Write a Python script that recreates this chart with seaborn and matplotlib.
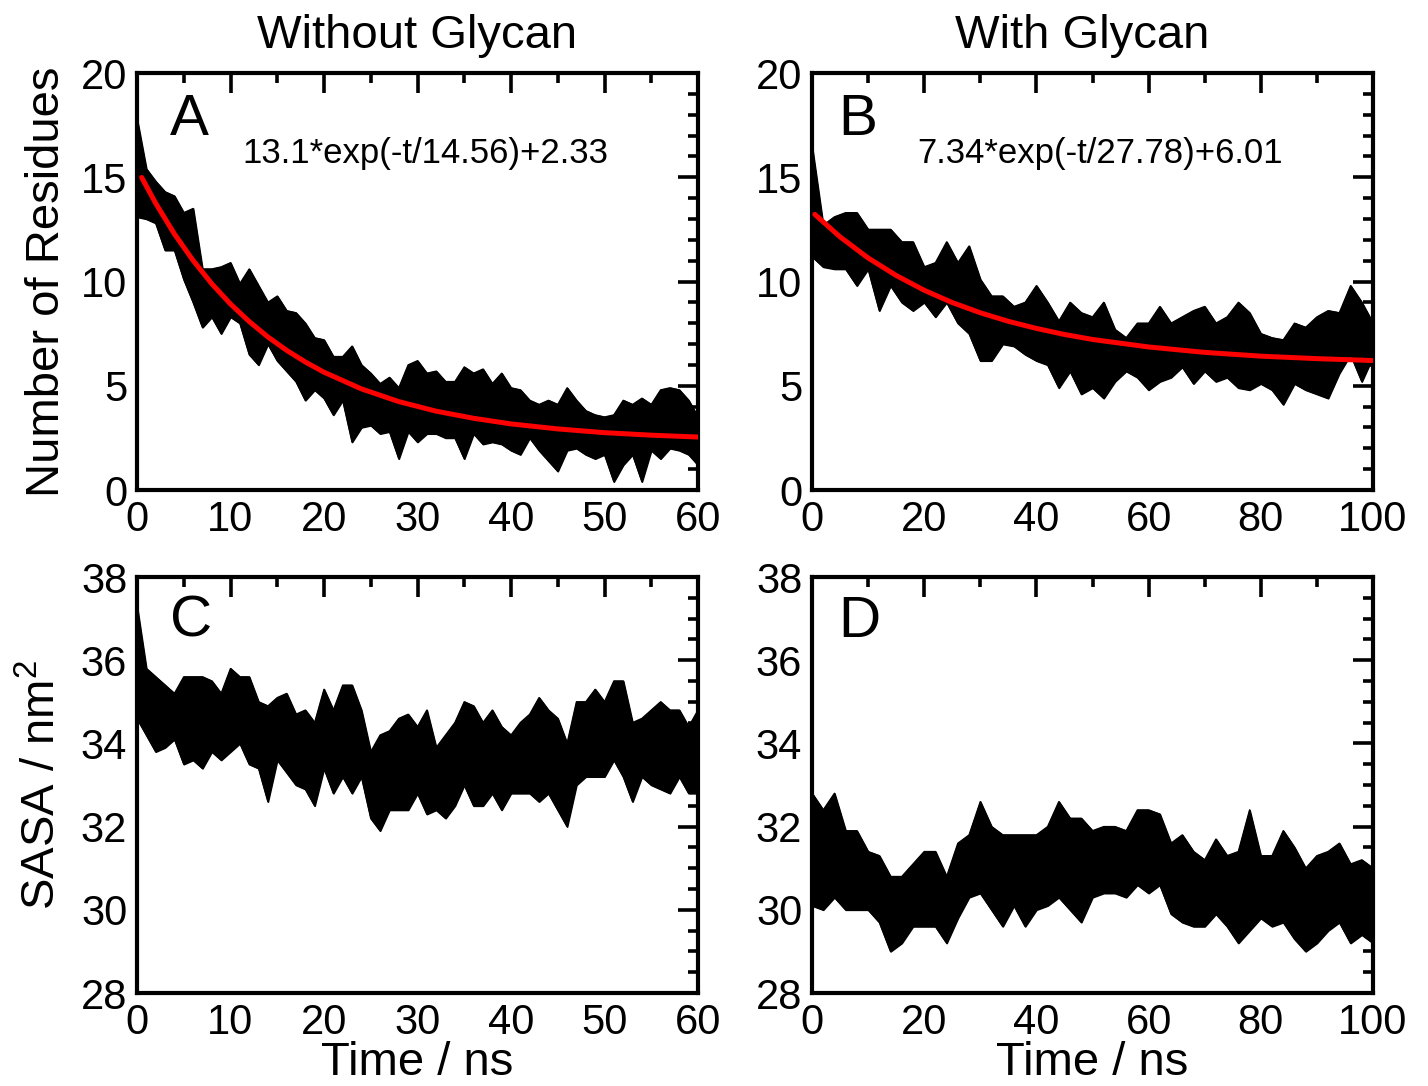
import matplotlib
matplotlib.use("Agg")
import matplotlib.pyplot as plt
from matplotlib.ticker import MultipleLocator
import seaborn as sns
import pandas as pd

# ---------------- data ----------------
# Panel A: number of residues, without glycan (envelope of noisy trace, 1 ns steps)
tA = list(range(0, 61))
A_top = [17.8, 15.4, 14.8, 14.3, 14.1, 13.3, 13.5, 10.6, 10.6, 10.7,
         10.9, 9.9, 10.6, 9.8, 9.0, 9.3, 8.6, 8.5, 8.0, 7.3,
         7.2, 6.4, 6.4, 6.9, 6.0, 5.6, 5.1, 5.4, 4.9, 6.0,
         6.2, 5.6, 5.7, 5.2, 5.2, 5.9, 5.6, 5.8, 5.1, 5.6,
         4.9, 4.8, 4.3, 4.1, 4.3, 4.1, 4.9, 4.3, 3.8, 3.6,
         3.5, 3.6, 4.3, 4.1, 4.4, 4.1, 4.8, 4.9, 4.8, 4.3, 3.5]
A_bot = [13.1, 13.0, 12.8, 11.5, 11.5, 10.1, 9.0, 7.8, 8.3, 7.5,
         8.3, 8.0, 6.5, 6.0, 7.0, 6.2, 5.7, 5.2, 4.3, 4.8,
         4.4, 3.6, 4.3, 2.3, 3.0, 3.1, 2.7, 2.8, 1.5, 2.8,
         2.3, 2.7, 2.7, 2.5, 2.5, 1.5, 2.7, 2.2, 2.3, 2.2,
         1.9, 1.7, 2.5, 1.9, 1.4, 0.9, 1.9, 2.0, 1.7, 1.5,
         1.7, 0.4, 1.2, 1.7, 0.4, 1.9, 1.5, 2.0, 1.9, 1.7, 1.2]
# fitted curve A as drawn (red)
fitA_t = [0.5, 2, 4, 6, 8, 10, 12, 14, 16, 18, 20, 24, 28, 32, 36, 40, 45, 50, 55, 60]
fitA_y = [14.99, 13.75, 12.28, 11.01, 9.89, 8.92, 8.08, 7.34, 6.70, 6.14, 5.65,
          4.85, 4.24, 3.78, 3.44, 3.17, 2.93, 2.75, 2.63, 2.54]

# Panel B: number of residues, with glycan (2 ns steps)
tB = list(range(0, 101, 2))
B_top = [16.5, 12.7, 13.1, 13.3, 13.3, 12.5, 12.5, 12.5, 11.9, 11.9,
         10.7, 10.9, 11.9, 10.9, 11.7, 10.1, 9.3, 9.3, 8.8, 9.0,
         9.8, 9.0, 8.1, 9.0, 8.5, 8.3, 9.0, 7.7, 7.3, 8.0,
         8.0, 8.8, 8.0, 8.3, 8.6, 8.8, 8.0, 8.3, 9.0, 8.5,
         7.5, 7.3, 7.2, 8.0, 7.8, 8.3, 8.6, 8.5, 9.8, 9.0, 8.0]
B_bot = [11.2, 10.7, 10.6, 10.6, 9.8, 10.6, 8.6, 9.8, 9.0, 8.6,
         9.0, 8.3, 9.0, 8.0, 7.5, 6.2, 6.2, 7.0, 6.9, 6.5,
         6.2, 6.0, 4.9, 5.7, 4.6, 4.9, 4.4, 5.2, 5.7, 5.4,
         4.8, 5.2, 5.4, 5.9, 5.1, 5.7, 5.2, 5.4, 4.9, 4.8,
         5.1, 4.8, 4.1, 5.1, 4.8, 4.6, 4.4, 5.6, 6.5, 5.2, 6.4]
fitB_t = [0.5, 5, 10, 15, 20, 25, 30, 35, 40, 45, 50, 60, 70, 80, 90, 100]
fitB_y = [13.22, 12.14, 11.13, 10.29, 9.58, 8.99, 8.50, 8.09, 7.75, 7.46, 7.22,
          6.86, 6.60, 6.42, 6.30, 6.21]

# Panel C: SASA without glycan (1 ns steps)
tC = list(range(0, 61))
C_top = [37.3, 35.8, 35.6, 35.4, 35.2, 35.6, 35.6, 35.6, 35.5, 35.2,
         35.8, 35.6, 35.6, 35.0, 34.9, 35.1, 35.2, 34.7, 34.8, 34.5,
         35.3, 34.8, 35.4, 35.4, 34.8, 33.8, 34.2, 34.3, 34.6, 34.7,
         34.4, 34.8, 33.9, 34.2, 34.5, 35.0, 34.9, 34.5, 34.8, 34.4,
         34.2, 34.5, 34.7, 35.1, 34.8, 34.6, 34.0, 35.0, 35.0, 35.3,
         35.0, 35.5, 35.5, 34.5, 34.6, 34.8, 35.0, 34.8, 34.8, 34.4, 34.8]
C_bot = [34.6, 34.2, 33.8, 33.9, 34.1, 33.5, 33.6, 33.4, 33.8, 33.6,
         33.8, 34.0, 33.5, 33.4, 32.6, 33.6, 33.3, 33.0, 32.9, 32.5,
         33.4, 32.8, 33.2, 32.8, 33.2, 32.2, 31.9, 32.4, 32.4, 32.4,
         32.8, 32.3, 32.4, 32.2, 32.5, 33.0, 32.5, 32.5, 32.8, 32.4,
         32.8, 32.8, 32.8, 32.6, 32.8, 32.4, 32.0, 33.0, 33.2, 33.2,
         33.2, 33.6, 33.2, 32.6, 33.2, 33.0, 32.9, 32.8, 33.2, 32.8, 32.8]

# Panel D: SASA with glycan (2 ns steps)
tD = list(range(0, 101, 2))
D_top = [32.8, 32.4, 32.8, 31.9, 31.9, 31.4, 31.3, 30.8, 30.8, 31.1,
         31.4, 31.4, 30.8, 31.6, 31.8, 32.6, 32.0, 31.8, 31.8, 31.8,
         31.8, 32.0, 32.6, 32.2, 32.2, 31.9, 32.0, 32.0, 31.9, 32.4,
         32.4, 32.3, 31.6, 31.8, 31.4, 31.2, 31.7, 31.3, 31.4, 32.4,
         31.3, 31.3, 31.9, 31.5, 31.0, 31.3, 31.4, 31.6, 31.1, 31.2, 31.0]
D_bot = [30.1, 30.0, 30.3, 30.0, 30.0, 30.0, 29.7, 29.0, 29.2, 29.6,
         29.6, 29.6, 29.2, 29.8, 30.3, 30.4, 30.0, 29.6, 30.1, 29.6,
         30.0, 30.1, 30.3, 30.0, 29.7, 30.3, 30.4, 30.4, 30.3, 30.6,
         30.4, 30.6, 29.9, 29.7, 29.6, 29.6, 29.9, 29.6, 29.2, 29.5,
         29.8, 29.6, 29.7, 29.3, 29.0, 29.2, 29.5, 29.7, 29.2, 29.4, 29.2]

col_titles = ["Without Glycan", "With Glycan"]
panel_letters = ["A", "B", "C", "D"]
fit_labels = ["13.1*exp(-t/14.56)+2.33", "7.34*exp(-t/27.78)+6.01"]
ylabels = ["Number of Residues", "SASA / nm$^2$"]
xlabel = "Time / ns"

# ---------------- style ----------------
sns.set_theme(style="white")
FONT = ["Liberation Sans", "DejaVu Sans"]
plt.rcParams["font.family"] = FONT
plt.rcParams["mathtext.fontset"] = "custom"
plt.rcParams["mathtext.rm"] = "Liberation Sans"
plt.rcParams["mathtext.it"] = "Liberation Sans"
plt.rcParams["mathtext.default"] = "regular"
plt.rcParams["text.color"] = "black"
plt.rcParams["axes.labelcolor"] = "black"
plt.rcParams["xtick.color"] = "black"
plt.rcParams["ytick.color"] = "black"

W, H = 1428, 1086
fig = plt.figure(figsize=(W / 100, H / 100), dpi=100)
fig.patch.set_facecolor("white")


def make_ax(l, t, r, b):
    return fig.add_axes([l / W, 1 - b / H, (r - l) / W, (b - t) / H])


axA = make_ax(137, 73, 698, 490)
axB = make_ax(812, 73, 1373, 490)
axC = make_ax(137, 577, 698, 993)
axD = make_ax(812, 577, 1373, 993)

TICK_FS = 30
LAB_FS = 34


def style(ax, xlim, ylim, xmaj, xmin, ymaj, ymin):
    ax.set_xlim(*xlim)
    ax.set_ylim(*ylim)
    ax.xaxis.set_major_locator(MultipleLocator(xmaj))
    ax.xaxis.set_minor_locator(MultipleLocator(xmin))
    ax.yaxis.set_major_locator(MultipleLocator(ymaj))
    ax.yaxis.set_minor_locator(MultipleLocator(ymin))
    ax.tick_params(which="both", direction="in", top=True, right=True,
                   color="black", labelcolor="black")
    ax.tick_params(which="major", length=14.5, width=2.6, labelsize=TICK_FS, pad=7)
    ax.tick_params(which="minor", length=7.2, width=2.6)
    for s in ax.spines.values():
        s.set_visible(True)
        s.set_color("black")
        s.set_linewidth(3.0)
    ax.set_facecolor("white")
    ax.grid(False)


def trace(ax, t, lo, hi):
    ax.fill_between(t, lo, hi, color="black", linewidth=1.2, edgecolor="black", zorder=2)
    df = pd.DataFrame({"t": t + t, "v": hi + lo,
                       "s": ["hi"] * len(t) + ["lo"] * len(t)})
    sns.lineplot(data=df, x="t", y="v", units="s", estimator=None, color="black",
                 linewidth=1.0, ax=ax, legend=False, zorder=2)


trace(axA, tA, A_bot, A_top)
sns.lineplot(x=fitA_t, y=fitA_y, color="#ff0000", linewidth=3.6, ax=axA, zorder=3)
trace(axB, tB, B_bot, B_top)
sns.lineplot(x=fitB_t, y=fitB_y, color="#ff0000", linewidth=3.6, ax=axB, zorder=3)
trace(axC, tC, C_bot, C_top)
trace(axD, tD, D_bot, D_top)

style(axA, (0, 60), (0, 20), 10, 5, 5, 1)
style(axB, (0, 100), (0, 20), 20, 10, 5, 1)
style(axC, (0, 60), (28, 38), 10, 5, 2, 0.5)
style(axD, (0, 100), (28, 38), 20, 10, 2, 0.5)

for ax in (axA, axB, axC, axD):
    ax.set_xlabel("")
    ax.set_ylabel("")

# panel letters
letter_pos = [(0.059, 0.887), (0.046, 0.887), (0.059, 0.892), (0.046, 0.892)]
for ax, L, (x, y) in zip((axA, axB, axC, axD), panel_letters, letter_pos):
    ax.text(x, y, L, transform=ax.transAxes, fontsize=42, ha="left", va="center",
            color="black")

# fit formulas
for ax, s in zip((axA, axB), fit_labels):
    ax.text(0.514, 0.808, s, transform=ax.transAxes, fontsize=25, ha="center",
            va="center", color="black")

# column titles
fig.text(417 / W, 1 - 36 / H, col_titles[0], fontsize=LAB_FS, ha="center",
         va="center", color="black")
fig.text(1082 / W, 1 - 36 / H, col_titles[1], fontsize=LAB_FS, ha="center",
         va="center", color="black")

# axis labels
axA.set_ylabel(ylabels[0], fontsize=LAB_FS, color="black")
axA.yaxis.set_label_coords(-0.160, 0.5)
axA.yaxis.label.set_va("center")
axC.set_ylabel(ylabels[1], fontsize=LAB_FS, color="black")
axC.yaxis.set_label_coords(-0.168, 0.5)
axC.yaxis.label.set_va("center")
for ax in (axC, axD):
    ax.set_xlabel(xlabel, fontsize=LAB_FS, color="black")
    ax.xaxis.set_label_coords(0.5, -0.168)
    ax.xaxis.label.set_va("center")

fig.savefig("out.png", dpi=100, facecolor="white")
